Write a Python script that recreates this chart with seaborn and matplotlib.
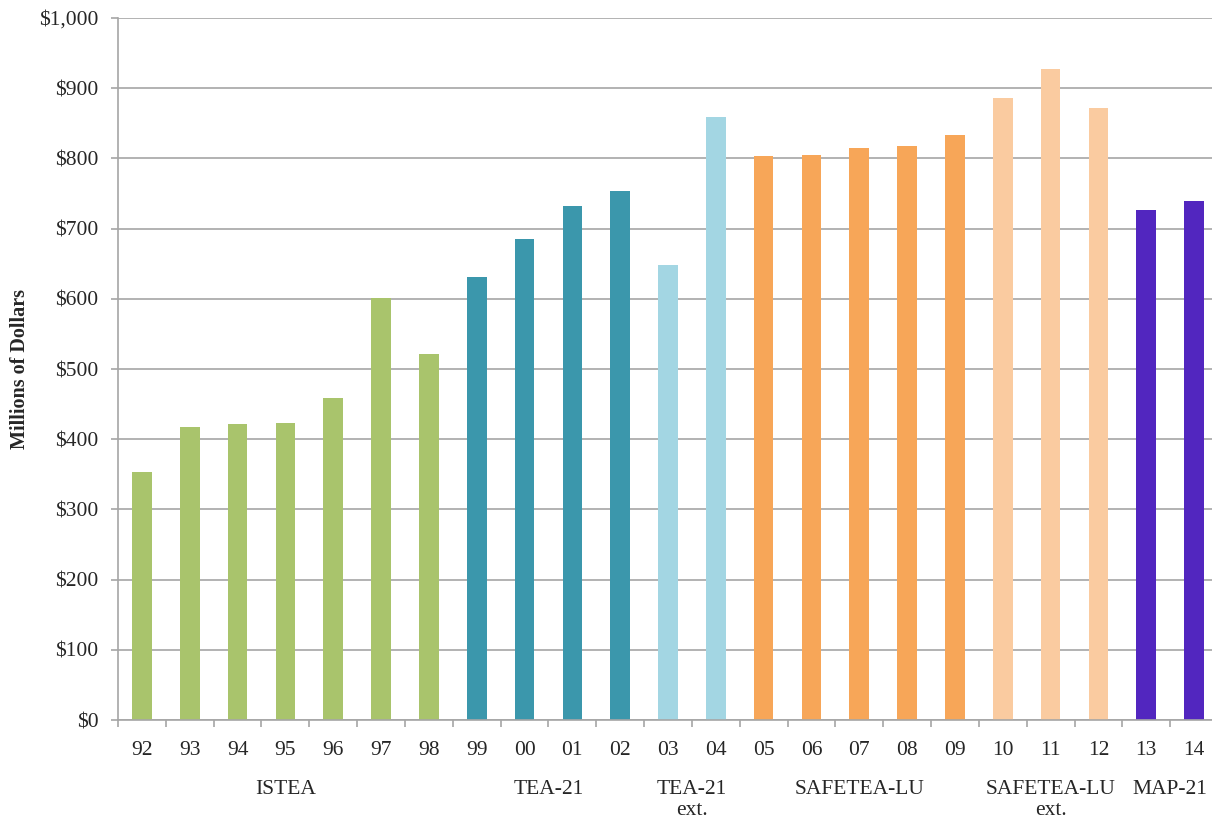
import matplotlib
matplotlib.use("Agg")
import matplotlib.pyplot as plt
import matplotlib.transforms as mtransforms
import numpy as np
import pandas as pd
import seaborn as sns

# Fiscal years (two-digit) and annual funding, millions of dollars
years = ["92", "93", "94", "95", "96", "97", "98", "99", "00", "01", "02",
         "03", "04", "05", "06", "07", "08", "09", "10", "11", "12", "13", "14"]
funding = [353, 417, 421, 423, 459, 601, 521, 631, 685, 732, 753,
           648, 859, 803, 805, 815, 818, 833, 886, 927, 872, 726, 739]
programs = ["ISTEA"] * 7 + ["TEA-21"] * 4 + ["TEA-21\next."] * 2 + \
           ["SAFETEA-LU"] * 5 + ["SAFETEA-LU\next."] * 3 + ["MAP-21"] * 2
program_names = ["ISTEA", "TEA-21", "TEA-21\next.", "SAFETEA-LU",
                 "SAFETEA-LU\next.", "MAP-21"]
program_colors = ["#A9C46C", "#3B97AC", "#A3D6E3", "#F7A658", "#FACBA0", "#5226BF"]

df = pd.DataFrame({"year": years, "funding": funding, "program": programs})

sns.set_theme(style="white")
plt.rcParams["font.family"] = ["Liberation Serif", "DejaVu Serif"]
FS = 15.5

fig = plt.figure(figsize=(12.12, 8.21), dpi=100)
ax = fig.add_axes([118 / 1212, 101 / 821, 1100 / 1212, 702 / 821])

sns.barplot(data=df, x="year", y="funding", hue="program",
            hue_order=program_names, palette=program_colors,
            dodge=False, width=0.41, saturation=1, legend=False,
            linewidth=0, ax=ax)

ax.set_xlim(-0.5, len(years) - 0.5)
ax.set_ylim(0, 1000)
ax.set_yticks(np.arange(0, 1001, 100))
ax.set_yticklabels([f"${v:,}" for v in range(0, 1001, 100)], fontsize=FS)
ax.yaxis.grid(True, color="#A6A6A6", linewidth=1.2)
ax.set_axisbelow(True)

# category ticks sit on the boundaries between years
ax.set_xticks(np.arange(len(years)))
ax.set_xticklabels(years, fontsize=FS)
ax.tick_params(axis="x", length=0, pad=15)
ax.set_xticks(np.arange(-0.5, len(years), 1), minor=True)
ax.tick_params(axis="x", which="minor", length=5, color="#A6A6A6", width=1.2,
               direction="out", bottom=True)
ax.tick_params(axis="y", length=5, color="#A6A6A6", width=1.2, pad=9,
               direction="out", left=True)

for side in ["top", "right"]:
    ax.spines[side].set_visible(False)
for side in ["left", "bottom"]:
    ax.spines[side].set_color("#A6A6A6")
    ax.spines[side].set_linewidth(1.2)

ax.set_xlabel("")
ax.set_ylabel("Millions of Dollars", fontsize=14.5, fontweight="bold",
              va="center")
ax.yaxis.set_label_coords(-0.089, 0.5)

# program names centred under their years
trans = mtransforms.blended_transform_factory(ax.transData, ax.transAxes)
positions = np.arange(len(years))
for name in program_names:
    idx = positions[np.array(programs) == name]
    ax.text(idx.mean(), -0.085, name, transform=trans, ha="center", va="top",
            fontsize=FS, linespacing=1.2)

fig.savefig("out.png", dpi=100)
